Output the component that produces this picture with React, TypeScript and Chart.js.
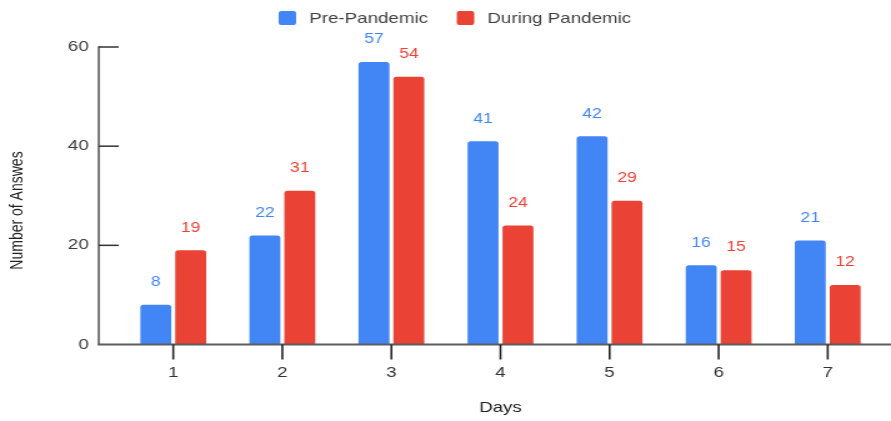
import { useEffect, useRef } from "react";
import { Chart, registerables } from "chart.js";

Chart.register(...registerables);

// Survey data: answers per day, before and during the pandemic
const days = ["1", "2", "3", "4", "5", "6", "7"];
const prePandemic = [8, 22, 57, 41, 42, 16, 21];
const duringPandemic = [19, 31, 54, 24, 29, 15, 12];
const yTicks = [0, 20, 40, 60];
const seriesNames = ["Pre-Pandemic", "During Pandemic"];
const seriesColors = ["#4285F4", "#EA4335"];
const xTitle = "Days";
const yTitle = "Number of Answes";

// The chart is laid out on a narrower canvas and widened by CSS.
const RENDER_W = 713;
const RENDER_H = 421;
const DISPLAY_W = 891;
const FONT = '"Liberation Sans", Arial, Helvetica, sans-serif';

// Axis lines, tick marks, y title, value labels and legend
const decorations = {
  id: "decorations",
  afterDraw(chart: any) {
    const { ctx, chartArea, scales } = chart;
    const xs = scales.x;
    const ys = scales.y;
    const axisX = chartArea.left - 16;
    const y0 = ys.getPixelForValue(yTicks[0]);
    const yTop = ys.getPixelForValue(yTicks[yTicks.length - 1]);

    ctx.save();

    // value labels above each bar
    ctx.font = `14px ${FONT}`;
    ctx.textAlign = "center";
    ctx.textBaseline = "middle";
    chart.data.datasets.forEach((ds: any, d: number) => {
      const meta = chart.getDatasetMeta(d);
      ctx.fillStyle = seriesColors[d];
      meta.data.forEach((bar: any, i: number) => {
        ctx.fillText(String(ds.data[i]), bar.x, bar.y - 22.5);
      });
    });

    // y axis line
    ctx.strokeStyle = "#5c5c5c";
    ctx.lineWidth = 1.6;
    ctx.beginPath();
    ctx.moveTo(axisX, yTop - 0.75);
    ctx.lineTo(axisX, y0);
    ctx.stroke();

    // y tick marks, pointing into the plot
    ctx.strokeStyle = "#333";
    ctx.lineWidth = 1.5;
    yTicks.slice(1).forEach((v) => {
      const py = ys.getPixelForValue(v);
      ctx.beginPath();
      ctx.moveTo(axisX, py);
      ctx.lineTo(chartArea.left, py);
      ctx.stroke();
    });

    // x axis line
    ctx.strokeStyle = "#5c5c5c";
    ctx.lineWidth = 2;
    ctx.beginPath();
    ctx.moveTo(axisX - 0.8, y0);
    ctx.lineTo(chart.width, y0);
    ctx.stroke();

    // x tick marks below each category
    ctx.strokeStyle = "#222";
    ctx.lineWidth = 1.6;
    days.forEach((_, i) => {
      const px = xs.getPixelForValue(i);
      ctx.beginPath();
      ctx.moveTo(px, y0);
      ctx.lineTo(px, y0 + 15);
      ctx.stroke();
    });

    // y axis title, centred on the full height
    ctx.save();
    ctx.translate(14.4, chart.height / 2);
    ctx.rotate(-Math.PI / 2);
    ctx.font = `14px ${FONT}`;
    ctx.fillStyle = "#222";
    ctx.textAlign = "center";
    ctx.textBaseline = "middle";
    ctx.fillText(yTitle, 0, 0);
    ctx.restore();

    // legend
    const box = 14;
    const gap = 10.5;
    const itemGap = 23;
    ctx.font = `15px ${FONT}`;
    const widths = seriesNames.map((n) => ctx.measureText(n).width);
    const total =
      widths.reduce((a, w) => a + box + gap + w, 0) + itemGap * (seriesNames.length - 1);
    let lx = chart.width / 2 - total / 2 + 7.5;
    const boxTop = 11;
    seriesNames.forEach((name, i) => {
      ctx.fillStyle = seriesColors[i];
      ctx.beginPath();
      if (ctx.roundRect) ctx.roundRect(lx, boxTop, box, box, 2);
      else ctx.rect(lx, boxTop, box, box);
      ctx.fill();
      ctx.fillStyle = "#404040";
      ctx.textAlign = "left";
      ctx.textBaseline = "middle";
      ctx.fillText(name, lx + box + gap, boxTop + box / 2 + 0.5);
      lx += box + gap + widths[i] + itemGap;
    });

    ctx.restore();
  },
};

export default function App() {
  const canvasRef = useRef<HTMLCanvasElement | null>(null);

  useEffect(() => {
    const canvas = canvasRef.current;
    if (!canvas) return;
    const chart = new Chart(canvas, {
      type: "bar",
      data: {
        labels: days,
        datasets: [
          {
            label: seriesNames[0],
            data: prePandemic,
            backgroundColor: seriesColors[0],
            borderRadius: 2.5,
            barPercentage: 0.886,
            categoryPercentage: 0.64,
          },
          {
            label: seriesNames[1],
            data: duringPandemic,
            backgroundColor: seriesColors[1],
            borderRadius: 2.5,
            barPercentage: 0.886,
            categoryPercentage: 0.64,
          },
        ],
      },
      options: {
        responsive: false,
        animation: false,
        devicePixelRatio: 1,
        layout: { padding: { top: 47, right: 7, left: 0, bottom: 0 } },
        plugins: {
          legend: { display: false },
          tooltip: { enabled: false },
        },
        scales: {
          x: {
            type: "category",
            offset: true,
            grid: { display: false, drawTicks: false },
            border: { display: false },
            ticks: { color: "#333", font: { family: FONT, size: 15 }, padding: 19 },
            title: {
              display: true,
              text: xTitle,
              color: "#222",
              font: { family: FONT, size: 15 },
              padding: { top: 0, bottom: 4 },
            },
            afterFit: (s: any) => {
              s.height = 76.5;
            },
          },
          y: {
            min: 0,
            max: 60,
            afterBuildTicks: (s: any) => {
              s.ticks = yTicks.map((v) => ({ value: v }));
            },
            grid: { display: false, drawTicks: false },
            border: { display: false },
            ticks: { color: "#3c3c3c", font: { family: FONT, size: 15 }, padding: 24 },
            afterFit: (s: any) => {
              s.width = 95;
            },
          },
        },
      },
      plugins: [decorations],
    });
    return () => chart.destroy();
  }, []);

  return (
    <div
      style={{
        position: "fixed",
        left: 0,
        top: 0,
        width: DISPLAY_W,
        height: RENDER_H,
        background: "#fff",
      }}
    >
      <canvas
        ref={canvasRef}
        width={RENDER_W}
        height={RENDER_H}
        style={{ width: `${DISPLAY_W}px`, height: `${RENDER_H}px`, display: "block" }}
      />
    </div>
  );
}
